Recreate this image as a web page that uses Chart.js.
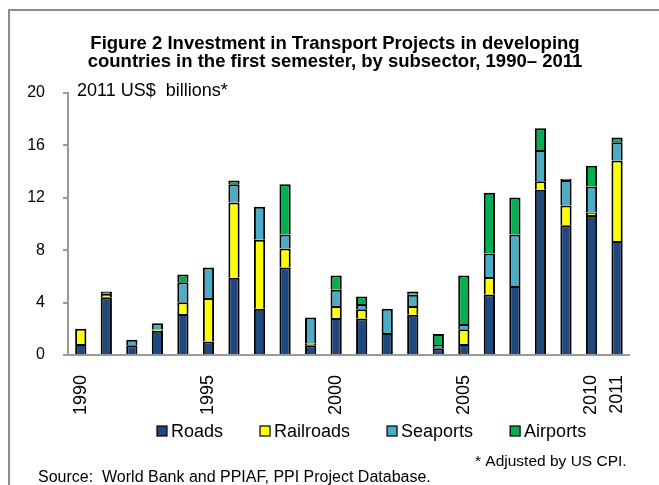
<!DOCTYPE html>
<html><head><meta charset="utf-8">
<script src="https://cdn.jsdelivr.net/npm/chart.js@4/dist/chart.umd.min.js"></script>
<style>html,body{margin:0;padding:0;background:#fff;overflow:hidden}
#wrap{position:relative;width:659px;height:485px}</style></head>
<body><div id="wrap"><canvas id="c" width="659" height="485"></canvas></div>
<script>
const years = ['1990','1991','1992','1993','1994','1995','1996','1997','1998','1999','2000','2001','2002','2003','2004','2005','2006','2007','2008','2009','2010','2011'];
const shownYearLabels = ['1990','1995','2000','2005','2010','2011'];
const roads     = [0.84, 4.40, 0.74, 1.85, 3.13, 1.04, 5.89, 3.54, 6.68, 0.74, 2.83, 2.78, 1.68, 3.08, 0.52, 0.84, 4.61, 5.27, 12.61, 9.91, 10.68, 8.71];
const railroads = [1.17, 0.25, null, 0.10, 0.90, 3.32, 5.75, 5.25, 1.45, 0.12, 0.92, 0.71, null, 0.67, null, 1.12, 1.35, null, 0.66, 1.50, 0.20, 6.14];
const seaports  = [null, 0.20, 0.43, 0.47, 1.52, 2.32, 1.40, 2.52, 1.07, 2.00, 1.24, 0.41, 1.86, 0.84, 0.25, 0.41, 1.79, 3.93, 2.37, 1.94, 1.99, 1.40];
const airports  = [null, null, null, null, 0.59, null, 0.28, null, 3.84, null, 1.07, 0.56, null, 0.25, 0.83, 3.69, 4.63, 2.83, 1.66, 0.10, 1.58, 0.36];
const seriesNames = ['Roads','Railroads','Seaports','Airports'];
const seriesColors = ['#1F497D','#FFFF00','#4BACC6','#00B050'];
const yMax = 20, yStep = 4;
const titleLines = ['Figure 2 Investment in Transport Projects in developing','countries in the first semester, by subsector, 1990\u2013 2011'];
const unitText = '2011 US$  billions*';
const noteText = '* Adjusted by US CPI.';
const sourceText = 'Source:  World Bank and PPIAF, PPI Project Database.';

const FONT = '"Liberation Sans", Arial, sans-serif';
const seriesData = [roads, railroads, seaports, airports];

const decor = {
  id: 'decor',
  beforeDraw(chart) {
    const c = chart.ctx;
    c.save();
    c.fillStyle = '#fff';
    c.fillRect(0, 0, chart.width, chart.height);
    c.restore();
  },
  afterDraw(chart) {
    const c = chart.ctx;
    c.save();
    // frame
    c.strokeStyle = '#8c8c8c';
    c.lineWidth = 2;
    c.strokeRect(9, 10, 800, 600);
    // title
    c.fillStyle = '#000';
    c.textAlign = 'center';
    c.textBaseline = 'middle';
    c.font = 'bold 18.5px ' + FONT;
    c.fillText(titleLines[0], 335, 44);
    c.fillText(titleLines[1], 335, 62);
    // unit
    c.textAlign = 'left';
    c.font = '18px ' + FONT;
    c.fillText(unitText, 77, 91);
    // legend
    c.font = '18px ' + FONT;
    let x = 157;
    const ly = 431;
    for (let i = 0; i < seriesNames.length; i++) {
      c.fillStyle = seriesColors[i];
      c.fillRect(x, ly - 5, 10, 10);
      c.strokeStyle = '#000';
      c.lineWidth = 1.2;
      c.strokeRect(x, ly - 5, 10, 10);
      c.fillStyle = '#000';
      c.fillText(seriesNames[i], x + 14, ly + 1);
      x += 14 + c.measureText(seriesNames[i]).width + 37;
    }
    // notes
    c.font = '15.5px ' + FONT;
    c.fillText(noteText, 475, 462);
    c.font = '16px ' + FONT;
    c.fillText(sourceText, 38, 478);
    c.restore();
  }
};

new Chart(document.getElementById('c'), {
  type: 'bar',
  data: {
    labels: years,
    datasets: seriesNames.map((n, i) => ({
      label: n,
      data: seriesData[i],
      backgroundColor: seriesColors[i],
      borderColor: '#000',
      borderWidth: 2,
      barPercentage: 0.44,
      categoryPercentage: 1.0
    }))
  },
  options: {
    responsive: false,
    animation: false,
    layout: { padding: { left: 0, right: 15, top: 93, bottom: 0 } },
    plugins: { legend: { display: false }, tooltip: { enabled: false }, title: { display: false } },
    scales: {
      x: {
        stacked: true,
        grid: { display: true, drawOnChartArea: false, drawTicks: false },
        border: { color: '#9a9a9a', width: 2 },
        ticks: {
          autoSkip: false, maxRotation: 90, minRotation: 90, padding: 20,
          color: '#000', font: { family: FONT, size: 18 },
          callback: function (v, i) { const l = years[i]; return shownYearLabels.includes(l) ? l : ''; }
        },
        afterFit(s) { s.height = 130; }
      },
      y: {
        stacked: true, min: 0, max: yMax,
        ticks: { stepSize: yStep, padding: 18, color: '#000', font: { family: FONT, size: 16 } },
        grid: { drawOnChartArea: false, tickLength: 5, color: '#9a9a9a', lineWidth: 2 },
        border: { color: '#9a9a9a', width: 2 },
        afterFit(s) { s.width = 68; }
      }
    }
  },
  plugins: [decor]
});
</script></body></html>
